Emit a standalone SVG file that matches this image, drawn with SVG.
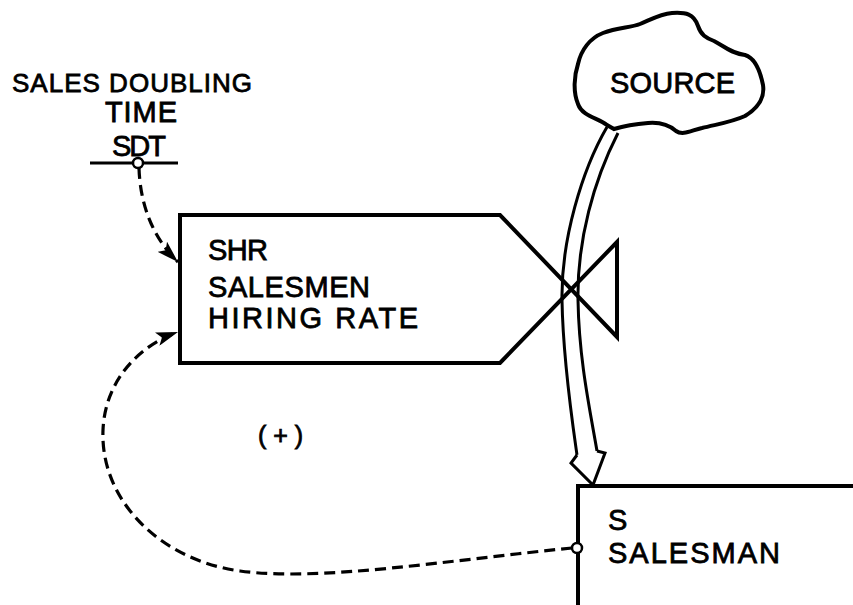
<svg xmlns="http://www.w3.org/2000/svg" width="853" height="605" viewBox="0 0 853 605">
<style>
.t{font-family:"Liberation Sans",Arial,sans-serif;font-size:29px;fill:#000;stroke:#000;stroke-width:0.8}
.ln{fill:none;stroke:#000;stroke-width:4;stroke-linejoin:miter}
.pipe{fill:none;stroke:#000;stroke-width:3}
.dash{fill:none;stroke:#000;stroke-width:3.2;stroke-dasharray:11,6}
</style>
<defs>
<marker id="ah" markerWidth="24" markerHeight="14" refX="22" refY="7" orient="auto" markerUnits="userSpaceOnUse">
<path d="M0,0 L22,7 L0,14 L5,7 Z" fill="#000"/>
</marker>
</defs>
<rect width="853" height="605" fill="#fff"/>
<g id="sdt">
<text class="t" x="12" y="92" style="font-size:26px" textLength="240" lengthAdjust="spacing">SALES DOUBLING</text>
<text class="t" x="105" y="122" textLength="72" lengthAdjust="spacing">TIME</text>
<text class="t" x="112" y="156" textLength="54" lengthAdjust="spacing">SDT</text>
<line x1="90" y1="163" x2="178" y2="163" stroke="#000" stroke-width="3"/>
<circle cx="138" cy="163" r="5" fill="#fff" stroke="#000" stroke-width="2.5"/>
</g>
<g id="source">
<path class="ln" d="M607,125 C598,118 582,116 578,104 C573,92 574,76 578,64 C581,50 590,38 603,33 C618,27 630,28 640,24 C650,20 660,14 672,13 C686,12 694,14 698,26 C701,35 706,38 714,41 C724,46 730,53 745,55 C755,58 760,70 763,85 C765,98 758,108 745,116 C732,122 718,124 702,128 C692,130 683,136 676,131 C668,124 660,122 648,123 C636,124 624,126 614,129 Z"/>
<text class="t" x="610" y="93" textLength="125" lengthAdjust="spacing">SOURCE</text>
</g>
<g id="shr">
<path class="ln" d="M180,363 L180,215 L500,215 L617,337 L617,242 L500,363 Z"/>
<text class="t" x="208" y="260" textLength="60" lengthAdjust="spacing">SHR</text>
<text class="t" x="208" y="297" textLength="162" lengthAdjust="spacing">SALESMEN</text>
<text class="t" x="208" y="328" textLength="210" lengthAdjust="spacing">HIRING RATE</text>
</g>
<g id="salesman">
<path class="ln" d="M578,605 L578,486 L853,486"/>
<text class="t" x="608" y="530">S</text>
<text class="t" x="608" y="563" textLength="172" lengthAdjust="spacing">SALESMAN</text>
</g>
<g id="connectors">
<path class="pipe" d="M607,127 C582,170 561,240 562,300 C563,360 572,420 577,455"/>
<path class="pipe" d="M618,133 C594,180 577,240 578,300 C579,360 590,410 597,451"/>
<path d="M577,455 L571,463 L593,485 L605,453 L597,451" fill="#fff" stroke="#000" stroke-width="3" stroke-linejoin="miter"/>
<path class="dash" d="M139,168 C140,200 150,235 178,262" marker-end="url(#ah)"/>
<path class="dash" d="M572,548 C450,560 320,582 240,571 C160,560 100,500 103,430 C105,380 140,345 178,332" marker-end="url(#ah)"/>
<circle cx="577" cy="548" r="5" fill="#fff" stroke="#000" stroke-width="2.5"/>
</g>
<g id="loop">
<text class="t" x="258" y="444" style="font-size:25px" textLength="45" lengthAdjust="spacing">(+)</text>
</g>
</svg>
